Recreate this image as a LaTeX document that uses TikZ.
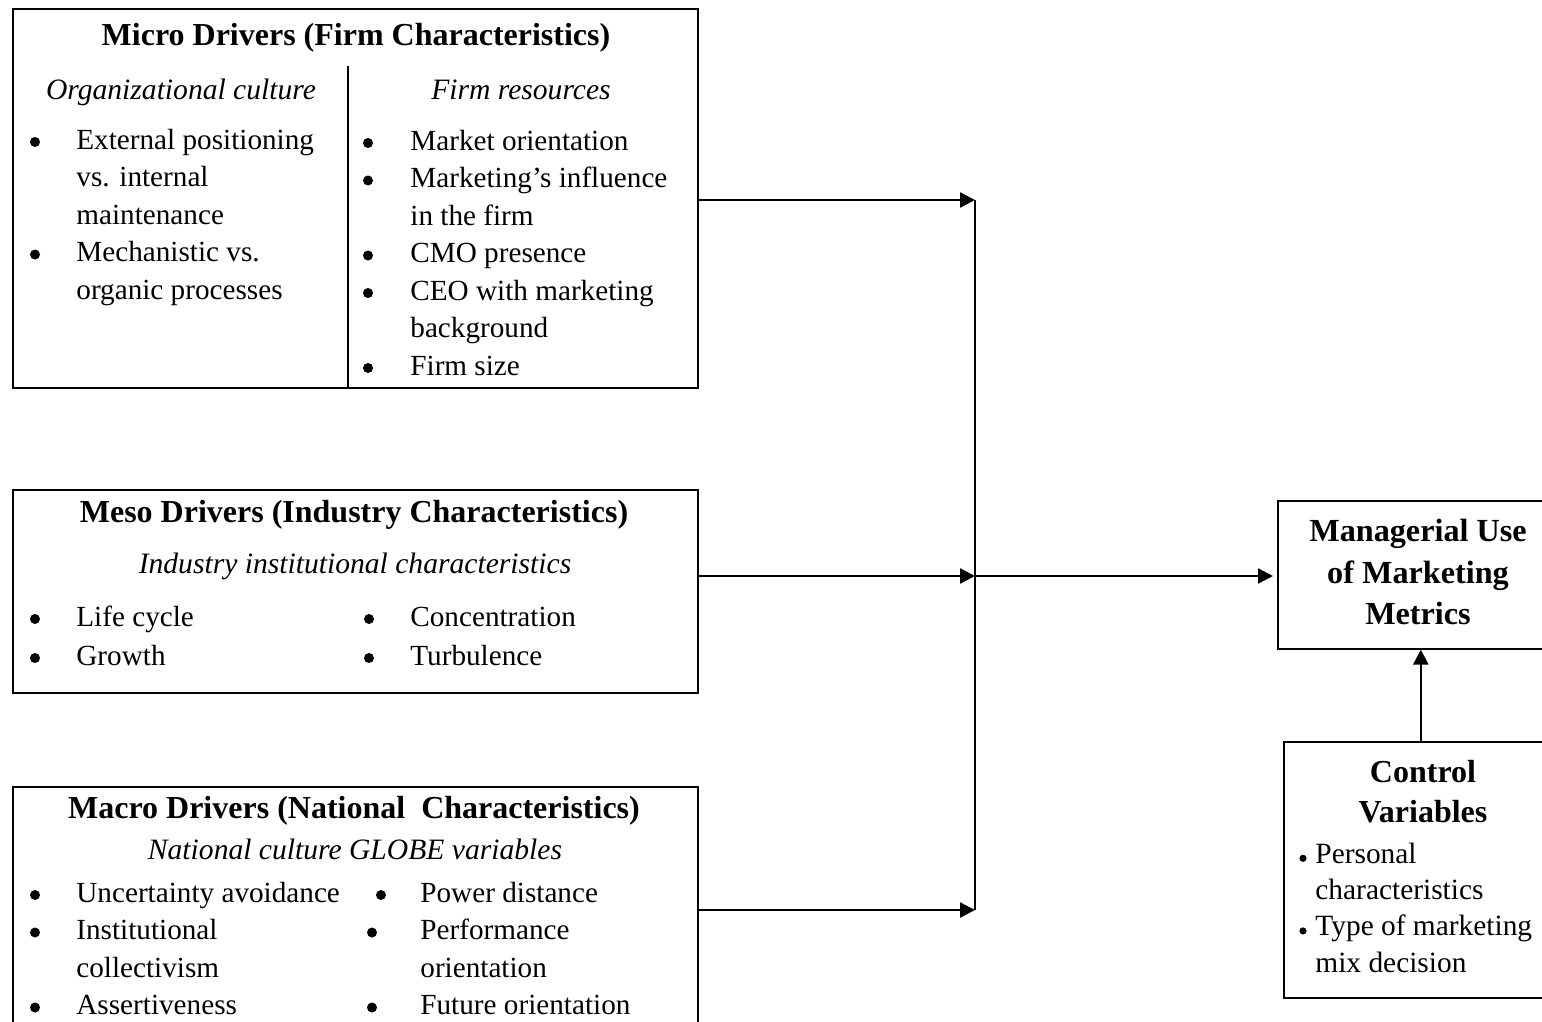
\documentclass[tikz,border=0pt]{standalone}
\usepackage{fontspec}
\setmainfont{Liberation Serif}
\usetikzlibrary{arrows.meta}

\tikzset{
  box/.style={draw, line width=0.8pt, inner sep=0pt, anchor=north west},
  rule/.style={line width=0.8pt},
  head/.style={inner sep=0pt, anchor=base, font=\fontsize{16}{19}\selectfont\bfseries},
  subhead/.style={inner sep=0pt, anchor=base, font=\fontsize{14.8}{18}\selectfont\itshape},
  entry/.style={inner sep=0pt, anchor=base west, font=\fontsize{14.6}{18}\selectfont},
  dot/.style={circle, fill, inner sep=0pt, minimum size=5pt},
  bighead/.style={inner sep=0pt, anchor=base, font=\fontsize{16.1}{20}\selectfont\bfseries},
  ctrlhead/.style={inner sep=0pt, anchor=base, font=\fontsize{16}{19}\selectfont\bfseries},
  ctrlentry/.style={inner sep=0pt, anchor=base west, font=\fontsize{14.7}{18}\selectfont},
  arr/.style={line width=1.2pt, -{Triangle[length=7.5pt,width=7.5pt]}},
}

\begin{document}
\begin{tikzpicture}[x=0.5pt,y=-0.5pt]
\useasboundingbox (0,0) rectangle (1542,1022);
\clip (0,0) rectangle (1542,1022);

% Micro drivers
\node[box, minimum width=342.5pt, minimum height=189.5pt] (micro) at (12,8) {};
\draw[rule] (348,66) -- (348,387);
\node[head] (microhead) at (356,46) {Micro Drivers (Firm Characteristics)};
\node[subhead] (orgcult) at (181,100) {Organizational culture};
\node[subhead] (firmres) at (521,100) {Firm resources};
\foreach \t [count=\i] in {External positioning, vs. internal, maintenance, Mechanistic vs., organic processes}
  \node[entry] (oc\i) at (76,{111.5+37.5*\i}) {\t};
\foreach \i in {1,4}
  \node[dot] (ocdot\i) at (35,{104.5+37.5*\i}) {};
\foreach \t [count=\i] in {Market orientation, Marketing’s influence, in the firm, CMO presence, CEO with marketing, background, Firm size}
  \node[entry] (fr\i) at (410,{112.5+37.5*\i}) {\t};
\foreach \i in {1,2,4,5,7}
  \node[dot] (frdot\i) at (368,{105.5+37.5*\i}) {};

% Meso drivers
\node[box, minimum width=342.5pt, minimum height=101.5pt] (meso) at (12,489) {};
\node[head] (mesohead) at (354,522) {Meso Drivers (Industry Characteristics)};
\node[subhead] (indinst) at (355,573) {Industry institutional characteristics};
\foreach \t/\x/\y [count=\i] in {Life cycle/76/626, Growth/76/665, Concentration/410/626, Turbulence/410/665} {
  \node[entry] (ind\i) at (\x,\y) {\t};
  \node[dot] (inddot\i) at (\x-41,\y-7) {};
}

% Macro drivers
\node[box, minimum width=342.5pt, minimum height=150pt] (macro) at (12,786) {};
\node[head] (macrohead) at (354,818) {Macro Drivers (National\ \ Characteristics)};
\node[subhead] (globe) at (355,859) {National culture GLOBE variables};
\foreach \t [count=\i] in {Uncertainty avoidance, Institutional, collectivism, Assertiveness}
  \node[entry] (nl\i) at (76,{864.5+37.5*\i}) {\t};
\foreach \i in {1,2,4}
  \node[dot] (nldot\i) at (35,{857.5+37.5*\i}) {};
\foreach \t [count=\i] in {Power distance, Performance, orientation, Future orientation}
  \node[entry] (nr\i) at (420,{864.5+37.5*\i}) {\t};
\node[dot] (nrdot1) at (381,895) {};
\foreach \i in {2,4}
  \node[dot] (nrdot\i) at (372,{857.5+37.5*\i}) {};

% Outcome
\node[box, minimum width=143pt, minimum height=74pt] (mgr) at (1277,500) {};
\foreach \t [count=\i] in {Managerial Use, of Marketing, Metrics}
  \node[bighead] (mgrline\i) at (1418,{500+41.5*\i}) {\t};

% Control variables
\node[box, minimum width=137pt, minimum height=128pt] (ctrl) at (1283,741) {};
\node[ctrlhead] (ctrlhead1) at (1423,782) {Control};
\node[ctrlhead] (ctrlhead2) at (1423,822) {Variables};
\foreach \t [count=\i] in {Personal, characteristics, Type of marketing, mix decision}
  \node[ctrlentry] (cv\i) at (1315,{827+36.3*\i}) {\t};
\foreach \i in {1,3}
  \node[dot, minimum size=3.6pt] (cvdot\i) at (1303,{822+36.3*\i}) {};

% Connectors
\coordinate (jtop) at (975,200);
\coordinate (jmid) at (975,576);
\coordinate (jbot) at (975,910);
\draw[arr] (micro.east |- jtop) -- (jtop);
\draw[arr] (meso.east |- jmid) -- (jmid);
\draw[arr] (macro.east |- jbot) -- (jbot);
\draw[line width=1.2pt] (jtop) -- (jbot);
\draw[arr, shorten >=2pt] (jmid) -- (jmid -| mgr.west);
\draw[arr] (ctrl.north) -- (mgr.south);
\end{tikzpicture}
\end{document}
